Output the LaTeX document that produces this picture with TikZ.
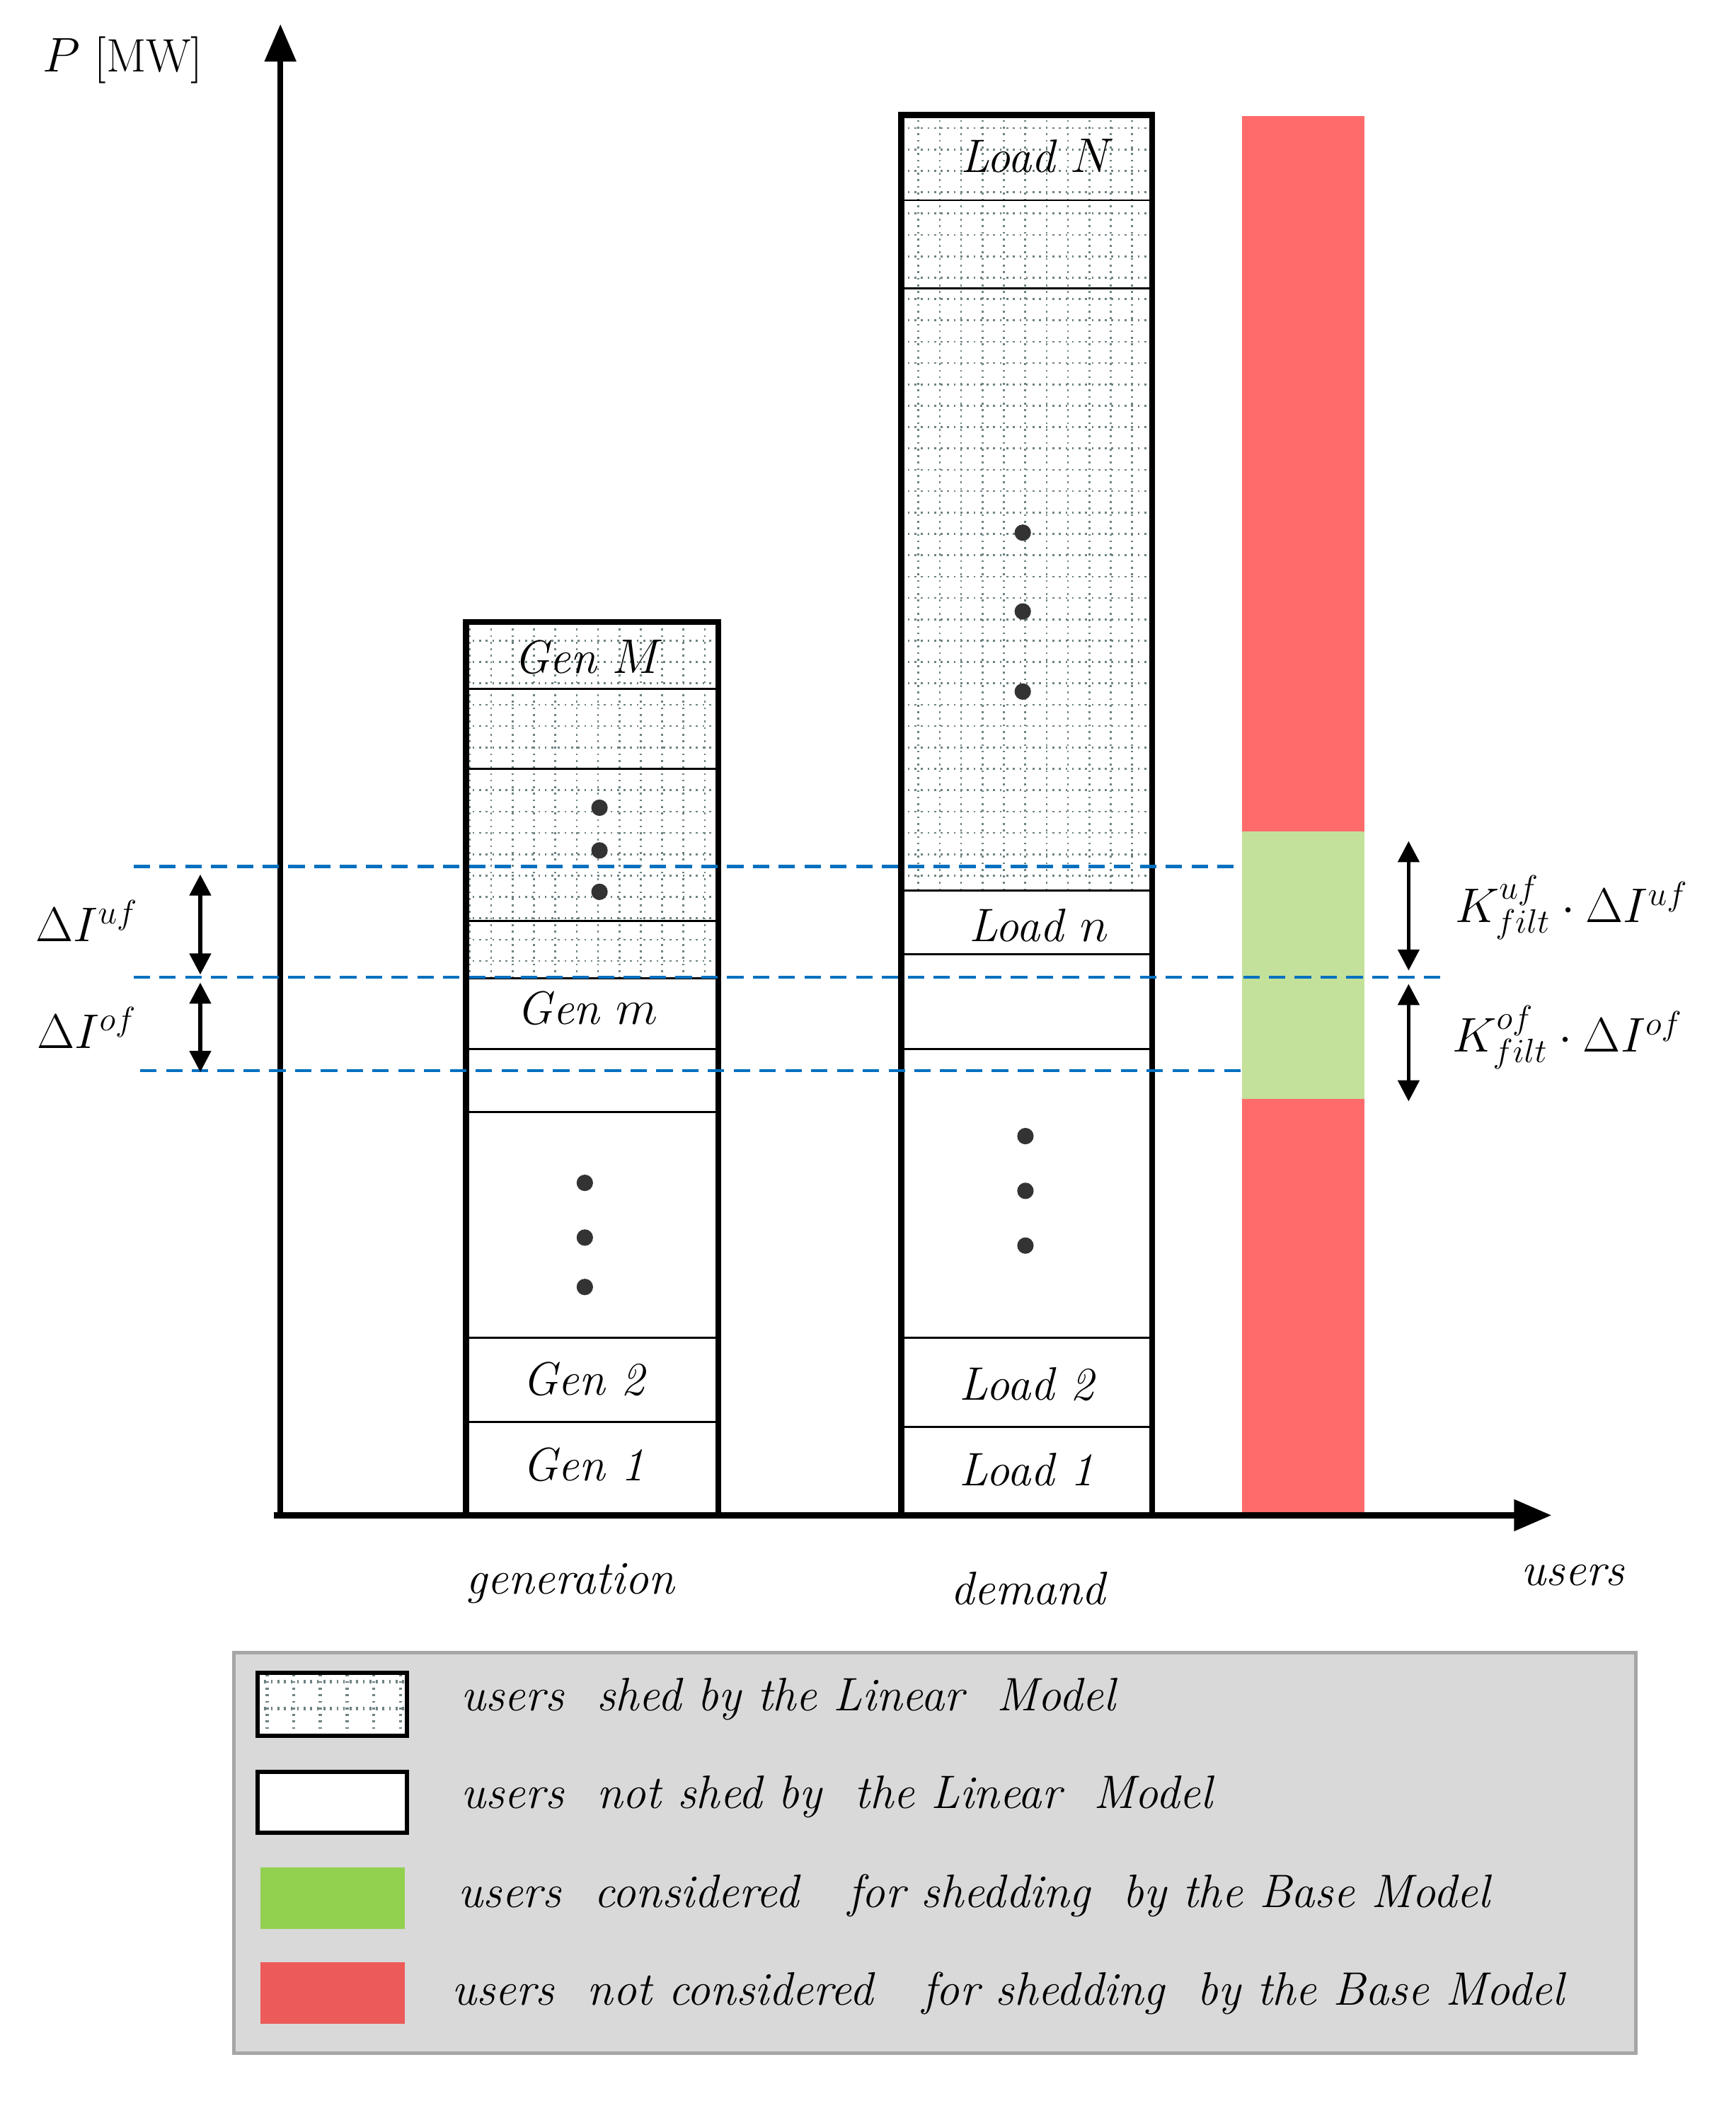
\documentclass[tikz,border=0pt]{standalone}
\usetikzlibrary{arrows.meta}
\definecolor{redb}{RGB}{255,107,107}
\definecolor{greenb}{RGB}{195,225,155}
\definecolor{dblue}{RGB}{0,112,192}
\definecolor{lgray}{RGB}{217,217,217}
\definecolor{lgreen}{RGB}{146,208,80}
\definecolor{lred}{RGB}{236,90,90}
\definecolor{gridc}{RGB}{110,130,130}
\begin{document}
\begin{tikzpicture}[x=0.02cm,y=-0.02cm,
  txt/.style={font=\fontsize{20}{24}\selectfont\itshape, inner sep=0pt},
  col/.style={line width=2.6pt},
  sep/.style={line width=0.9pt},
  dsh/.style={draw=dblue, line width=1.3pt, dash pattern=on 7pt off 4pt},
  dbl/.style={{Triangle[length=9pt,width=9pt]}-{Triangle[length=9pt,width=9pt]}, line width=1.6pt},
  hatchgrid/.style={draw=gridc, line width=0.8pt, dotted, step=0.32cm},
  dot/.style={circle, fill=black!80, inner sep=0pt, minimum size=7pt}]
\useasboundingbox (0,0) rectangle (1300,1579);
% red/green bar
\fill[redb] (930,87) rectangle (1022,1135);
\fill[greenb] (930,623) rectangle (1022,823);
% hatched areas
\begin{scope}
\clip (349,466) rectangle (538,733);
\draw[hatchgrid] (349,466) grid (538,733);
\end{scope}
\begin{scope}
\clip (675,86) rectangle (863,667);
\draw[hatchgrid] (675,86) grid (863,667);
\end{scope}
% generation column
\foreach \y in {516,576,690,733,786,833,1002,1065} \draw[sep] (349,\y) -- (538,\y);
\draw[col] (349,1135) -- (349,466) -- (538,466) -- (538,1135);
% load column
\foreach \y in {150,216,667,715,786,1002,1069} \draw[sep] (675,\y) -- (863,\y);
\draw[col] (675,1135) -- (675,86) -- (863,86) -- (863,1135);
% dots
\foreach \y in {605,637,668} \node[dot] at (449,\y) {};
\foreach \y in {886,927,964} \node[dot] at (438,\y) {};
\foreach \y in {399,458,518} \node[dot] at (766,\y) {};
\foreach \y in {851,892,933} \node[dot] at (768,\y) {};
% labels in columns
\node[txt] (gM) at (441,492) {Gen $M$};
\node[txt] (gm) at (440,755) {Gen $m$};
\node[txt] (g2) at (437,1033) {Gen 2};
\node[txt] (g1) at (437,1097) {Gen 1};
\node[txt] (lN) at (777,117) {Load $N$};
\node[txt] (ln) at (778,693) {Load $n$};
\node[txt] (l2) at (769,1037) {Load 2};
\node[txt] (l1) at (769,1101) {Load 1};
% axes
\coordinate (o) at (210,1135);
\coordinate (ytop) at (210,18);
\coordinate (xl) at (205,1135);
\coordinate (xr) at (1162,1135);
\draw[line width=2.5pt,-{Triangle[length=16pt,width=13pt]}] (o) -- (ytop);
\draw[line width=2.5pt,-{Triangle[length=16pt,width=13pt]}] (xl) -- (xr);
\node[font=\fontsize{20}{24}\selectfont, inner sep=0pt] (P) at (92,45) {$P$ [MW]};
\node[txt] (gen) at (427,1186) {generation};
\node[txt] (dem) at (770,1190) {demand};
\node[txt] (us) at (1178,1180) {users};
% dashed lines
\draw[dsh] (100,649) -- (930,649);
\draw[dsh] (100,732) -- (1085,732);
\draw[dsh] (105,802) -- (935,802);
% arrows
\coordinate (a1) at (150,655); \coordinate (a2) at (150,730);
\coordinate (a3) at (150,736); \coordinate (a4) at (150,803);
\draw[dbl] (a1) -- (a2); \draw[dbl] (a3) -- (a4);
\coordinate (b1) at (1055,630); \coordinate (b2) at (1055,727);
\coordinate (b3) at (1055,737); \coordinate (b4) at (1055,825);
\draw[dbl] (b1) -- (b2); \draw[dbl] (b3) -- (b4);
\node[font=\fontsize{20}{24}\selectfont, inner sep=0pt] (duf) at (65,690) {$\Delta I^{uf}$};
\node[font=\fontsize{20}{24}\selectfont, inner sep=0pt] (dof) at (65,770) {$\Delta I^{of}$};
\node[font=\fontsize{20}{24}\selectfont, inner sep=0pt] (kuf) at (1177,680) {$K_{filt}^{uf}\cdot\Delta I^{uf}$};
\node[font=\fontsize{20}{24}\selectfont, inner sep=0pt] (kof) at (1174,777) {$K_{filt}^{of}\cdot\Delta I^{of}$};
% legend
\draw[fill=lgray, draw=gray!70, line width=1.5pt] (175,1238) rectangle (1225,1538);
\fill[white] (193,1253) rectangle (305,1300);
\begin{scope}
\clip (193,1253) rectangle (305,1300);
\draw[hatchgrid, step=0.4cm, line width=1.4pt] (193,1253) grid (305,1300);
\end{scope}
\draw[line width=1.8pt] (193,1253) rectangle (305,1300);
\draw[fill=white, line width=1.8pt] (193,1327) rectangle (305,1373);
\fill[lgreen] (195,1399) rectangle (303,1445);
\fill[lred] (195,1470) rectangle (303,1516);
\node[txt, anchor=west] (t1) at (345,1273) {users\ \ shed by\ the\ Linear\ \ Model};
\node[txt, anchor=west] (t2) at (345,1346) {users\ \ not shed by\ \ the\ Linear\ \ Model};
\node[txt, anchor=west] (t3) at (343,1420) {users\ \ considered\ \ \ for shedding\ \ by the Base Model};
\node[txt, anchor=west] (t4) at (338,1493) {users\ \ not considered\ \ \ for shedding\ \ by the Base Model};
\end{tikzpicture}
\end{document}
